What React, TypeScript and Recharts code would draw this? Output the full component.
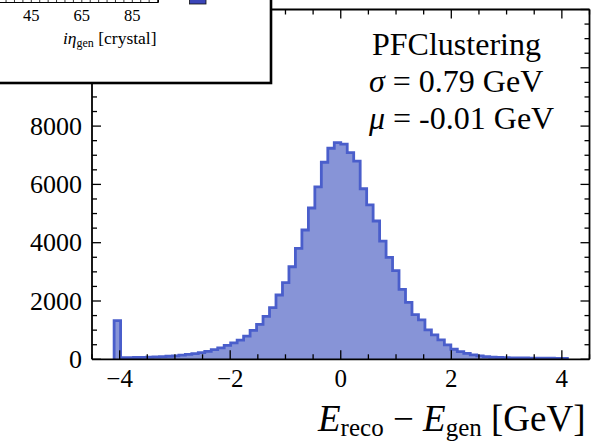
import React from 'react';
import { ComposedChart, Area, XAxis, YAxis } from 'recharts';

// Histogram range and bin contents (70 equal bins from HIST_MIN to HIST_MAX)
const HIST_MIN = -4.1;
const HIST_MAX = 4.1;
const counts = [
  1330, 55, 58, 62, 66, 75, 85, 95, 105, 118,
  140, 168, 195, 228, 275, 330, 395, 480, 565, 660,
  795, 995, 1200, 1475, 1775, 2205, 2630, 3175, 3805, 4435,
  5190, 5915, 6760, 7240, 7430, 7380, 7090, 6800, 5850, 5300,
  4745, 4055, 3500, 3040, 2400, 1950, 1530, 1350, 1010, 840,
  665, 495, 345, 262, 205, 150, 115, 90, 75, 65,
  58, 52, 48, 45, 42, 40, 38, 36, 34, 32,
];

const xDomain: [number, number] = [-4.5, 4.5];
const yDomain: [number, number] = [0, 12000];
const xMajorTicks = [-4, -2, 0, 2, 4];
const xAllTicks = [-4.5, -4, -3.5, -3, -2.5, -2, -1.5, -1, -0.5, 0, 0.5, 1, 1.5, 2, 2.5, 3, 3.5, 4, 4.5];
const yMajorTicks = [0, 2000, 4000, 6000, 8000, 10000, 12000];
// labels of 10000 and 12000 lie under the inset panel, so only these are written
const yLabelTicks = [0, 2000, 4000, 6000, 8000];
const yAllTicks = [
  0, 500, 1000, 1500, 2000, 2500, 3000, 3500, 4000, 4500, 5000, 5500, 6000,
  6500, 7000, 7500, 8000, 8500, 9000, 9500, 10000, 10500, 11000, 11500, 12000,
];

// inset (partially visible) axis
const insetLabels = [45, 65, 85];
const insetMinorTicks = [35, 38.33, 41.67, 45, 48.33, 51.67, 55, 58.33, 61.67, 65, 68.33, 71.67, 75, 78.33, 81.67, 85, 88.33, 91.67, 95];

const statsLines = ['PFClustering', '0.79', '-0.01'];

const FONT = '"Liberation Serif", "DejaVu Serif", serif';
const STROKE = '#4a5ecb';
const FILL = '#8794d7';

const binWidth = (HIST_MAX - HIST_MIN) / counts.length;
const stepData = [
  { x: HIST_MIN, y: 0 },
  ...counts.map((c, i) => ({ x: HIST_MIN + i * binWidth, y: c })),
  { x: HIST_MAX, y: counts[counts.length - 1] },
  { x: HIST_MAX, y: 0 },
];

const fmtX = (v: number) => (v < 0 ? '\u2212' + Math.abs(v) : String(v));

const BottomTick = (props: any) => {
  const { x, y, payload } = props;
  const v = payload.value;
  const major = xMajorTicks.includes(v);
  return (
    <g>
      <line x1={x} x2={x} y1={y} y2={y - (major ? 9 : 5)} stroke="#000" strokeWidth={1.3} />
      {major && (
        <text x={x} y={y + 28} textAnchor="middle" fontFamily={FONT} fontSize={25} fill="#000">
          {fmtX(v)}
        </text>
      )}
    </g>
  );
};

const TopTick = (props: any) => {
  const { x, y, payload } = props;
  const major = xMajorTicks.includes(payload.value);
  return <line x1={x} x2={x} y1={y} y2={y + (major ? 9 : 5)} stroke="#000" strokeWidth={1.3} />;
};

const LeftTick = (props: any) => {
  const { x, y, payload } = props;
  const v = payload.value;
  const major = yMajorTicks.includes(v);
  return (
    <g>
      <line x1={x} x2={x + (major ? 9 : 5)} y1={y} y2={y} stroke="#000" strokeWidth={1.3} />
      {yLabelTicks.includes(v) && (
        <text x={x - 10} y={y + 8.5} textAnchor="end" fontFamily={FONT} fontSize={26} fill="#000">
          {String(v)}
        </text>
      )}
    </g>
  );
};

const RightTick = (props: any) => {
  const { x, y, payload } = props;
  const major = yMajorTicks.includes(payload.value);
  return <line x1={x} x2={x - (major ? 9 : 5)} y1={y} y2={y} stroke="#000" strokeWidth={1.3} />;
};

const axisLine = { stroke: '#000', strokeWidth: 1.8 };

const insetX = (v: number) => 31.3 + (v - 45) * 2.525;

export default function App() {
  return (
    <div style={{ position: 'absolute', left: 0, top: 0, width: 595, height: 442, background: '#fff' }}>
      <ComposedChart
        width={595}
        height={442}
        data={stepData}
        margin={{ top: 0, right: 0, bottom: 0, left: 0 }}
      >
        <XAxis
          xAxisId="b"
          dataKey="x"
          type="number"
          domain={xDomain}
          allowDataOverflow
          ticks={xAllTicks}
          interval={0}
          tickSize={0}
          tickMargin={0}
          tickLine={false}
          tick={<BottomTick />}
          axisLine={axisLine}
          height={82.7}
          orientation="bottom"
        />
        <XAxis
          xAxisId="t"
          dataKey="x"
          type="number"
          domain={xDomain}
          allowDataOverflow
          ticks={xAllTicks}
          interval={0}
          tickSize={0}
          tickMargin={0}
          tickLine={false}
          tick={<TopTick />}
          axisLine={axisLine}
          height={9.5}
          orientation="top"
        />
        <YAxis
          yAxisId="l"
          type="number"
          domain={yDomain}
          allowDataOverflow
          ticks={yAllTicks}
          interval={0}
          tickSize={0}
          tickMargin={0}
          tickLine={false}
          tick={<LeftTick />}
          axisLine={axisLine}
          width={92}
          orientation="left"
        />
        <YAxis
          yAxisId="r"
          type="number"
          domain={yDomain}
          allowDataOverflow
          ticks={yAllTicks}
          interval={0}
          tickSize={0}
          tickMargin={0}
          tickLine={false}
          tick={<RightTick />}
          axisLine={axisLine}
          width={5.5}
          orientation="right"
        />
        <Area
          xAxisId="b"
          yAxisId="l"
          dataKey="y"
          type="stepAfter"
          stroke={STROKE}
          strokeWidth={2.8}
          fill={FILL}
          fillOpacity={1}
          isAnimationActive={false}
          dot={false}
          activeDot={false}
        />
        <Area
          xAxisId="t"
          yAxisId="r"
          dataKey="y"
          type="stepAfter"
          stroke="none"
          fill="none"
          isAnimationActive={false}
          dot={false}
          activeDot={false}
        />
      </ComposedChart>
      <svg
        width={595}
        height={442}
        style={{ position: 'absolute', left: 0, top: 0, pointerEvents: 'none' }}
      >
        {/* inset panel (cut off at the top-left) */}
        <rect x={-5} y={-5} width={276} height={88} fill="#fff" stroke="#000" strokeWidth={2.6} />
        <line x1={-2} x2={158.5} y1={2.5} y2={2.5} stroke="#000" strokeWidth={1} />
        <line x1={158.5} x2={158.5} y1={-5} y2={2.5} stroke="#000" strokeWidth={1} />
        {insetMinorTicks.map((t) => (
          <line key={t} x1={insetX(t)} x2={insetX(t)} y1={2.5} y2={-1} stroke="#000" strokeWidth={0.8} />
        ))}
        {insetLabels.map((t) => (
          <text key={t} x={insetX(t)} y={20.5} textAnchor="middle" fontFamily={FONT} fontSize={16.5} fill="#000">
            {t}
          </text>
        ))}
        <text x={63} y={44} fontFamily={FONT} fontSize={17.5} fill="#000">
          <tspan fontStyle="italic">iη</tspan>
          <tspan fontSize={12} dy={3}>gen</tspan>
          <tspan dy={-3}> [crystal]</tspan>
        </text>
        <rect x={189.5} y={-3} width={16.5} height={7} fill="#3b45b8" stroke="#111" strokeWidth={0.8} />

        {/* statistics box */}
        <text x={372} y={55} fontFamily={FONT} fontSize={32} fill="#000">
          {statsLines[0]}
        </text>
        <text x={369} y={92} fontFamily={FONT} fontSize={32} fill="#000">
          <tspan fontStyle="italic">σ</tspan>
          <tspan>{' = ' + statsLines[1] + ' GeV'}</tspan>
        </text>
        <text x={369} y={128.5} fontFamily={FONT} fontSize={32} fill="#000">
          <tspan fontStyle="italic">μ</tspan>
          <tspan>{' = ' + statsLines[2] + ' GeV'}</tspan>
        </text>

        {/* x axis title */}
        <text x={318} y={431} fontFamily={FONT} fontSize={37} fill="#000">
          <tspan fontStyle="italic">E</tspan>
          <tspan fontSize={25} dy={5}>reco</tspan>
          <tspan dy={-5}>{' \u2212 '}</tspan>
          <tspan fontStyle="italic">E</tspan>
          <tspan fontSize={25} dy={5}>gen</tspan>
          <tspan dy={-5}> [GeV]</tspan>
        </text>
      </svg>
    </div>
  );
}
